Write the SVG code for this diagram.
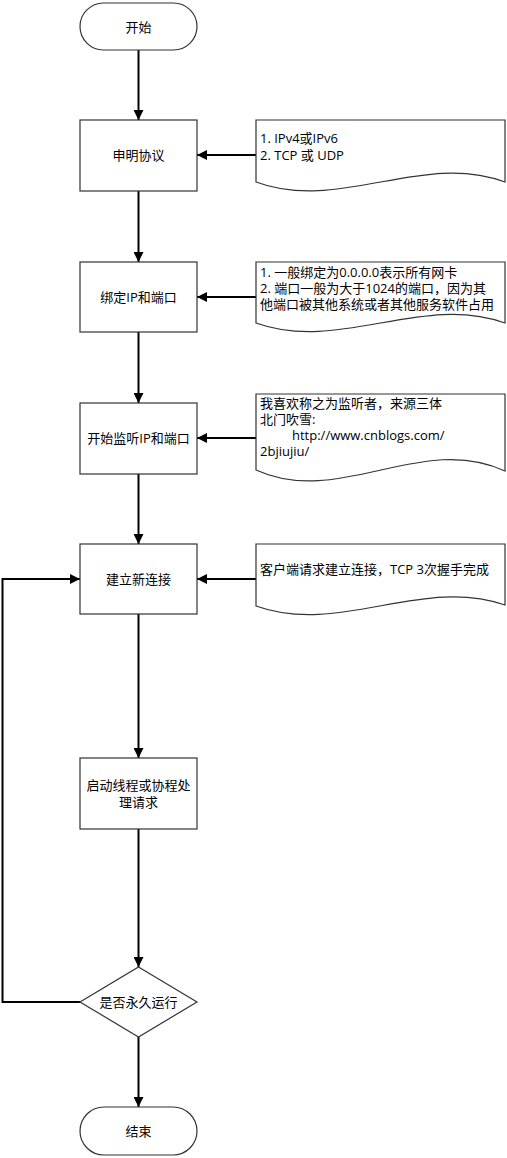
<svg xmlns="http://www.w3.org/2000/svg" width="507" height="1158" viewBox="0 0 507 1158">
<style>
.shape{fill:#fff;stroke:#333;stroke-width:1.2}
.t{font-family:"Open Sans","Noto Sans CJK SC",sans-serif;font-size:13px;fill:#000}
.c{text-anchor:middle;dominant-baseline:central}
.n{dominant-baseline:central}
.edge{fill:none;stroke:#000;stroke-width:2}
</style>
<defs>
<marker id="ah" viewBox="0 0 10 10" refX="10" refY="5" markerWidth="5" markerHeight="5" orient="auto" markerUnits="strokeWidth">
<path d="M0,0 L10,5 L0,10 z" fill="#000"/>
</marker>
</defs>
<rect width="507" height="1158" fill="#fff"/>
<g id="connectors">
<path class="edge" d="M138.5,50 V120" marker-end="url(#ah)"/>
<path class="edge" d="M138.5,191 V262" marker-end="url(#ah)"/>
<path class="edge" d="M138.5,332 V403" marker-end="url(#ah)"/>
<path class="edge" d="M138.5,474 V544" marker-end="url(#ah)"/>
<path class="edge" d="M138.5,614 V758" marker-end="url(#ah)"/>
<path class="edge" d="M138.5,829 V967" marker-end="url(#ah)"/>
<path class="edge" d="M138.5,1037 V1107" marker-end="url(#ah)"/>
<path class="edge" d="M80,1002 H2.5 V579 H80" marker-end="url(#ah)"/>
<path class="edge" d="M256,155 H197" marker-end="url(#ah)"/>
<path class="edge" d="M256,297 H197" marker-end="url(#ah)"/>
<path class="edge" d="M256,438 H197" marker-end="url(#ah)"/>
<path class="edge" d="M256,579 H197" marker-end="url(#ah)"/>
</g>
<g id="start">
<rect class="shape" x="80" y="3" width="117" height="47" rx="23.5" ry="23.5"/>
<text class="t c" x="138.5" y="27">开始</text>
</g>
<g id="declare">
<rect class="shape" x="80" y="120" width="117" height="71"/>
<text class="t c" x="138.5" y="155">申明协议</text>
</g>
<g id="note1">
<path class="shape" d="M256,120 H505 V182 C422,151 339,213 256,182 Z"/>
<text class="t n" x="260" y="138">1. IPv4或IPv6</text>
<text class="t n" x="260" y="155">2. TCP 或 UDP</text>
</g>
<g id="bind">
<rect class="shape" x="80" y="262" width="117" height="70"/>
<text class="t c" x="138.5" y="297">绑定IP和端口</text>
</g>
<g id="note2">
<path class="shape" d="M256,262 H505 V323 C422,293 339,353 256,323 Z"/>
<text class="t n" x="260" y="272">1. 一般绑定为0.0.0.0表示所有网卡</text>
<text class="t n" x="260" y="288">2. 端口一般为大于1024的端口，因为其</text>
<text class="t n" x="260" y="304">他端口被其他系统或者其他服务软件占用</text>
</g>
<g id="listen">
<rect class="shape" x="80" y="403" width="117" height="71"/>
<text class="t c" x="138.5" y="438">开始监听IP和端口</text>
</g>
<g id="note3">
<path class="shape" d="M256,394 H505 V471 C422,432 339,508 256,470 Z"/>
<text class="t n" x="260" y="403">我喜欢称之为监听者，来源三体</text>
<text class="t n" x="260" y="419">北门吹雪:</text>
<text class="t n" x="292" y="435">http://www.cnblogs.com/</text>
<text class="t n" x="260" y="451">2bjiujiu/</text>
</g>
<g id="accept">
<rect class="shape" x="80" y="544" width="117" height="70"/>
<text class="t c" x="138.5" y="579">建立新连接</text>
</g>
<g id="note4">
<path class="shape" d="M256,544 H505 V605 C422,576 339,636 256,606 Z"/>
<text class="t n" x="260" y="569">客户端请求建立连接，TCP 3次握手完成</text>
</g>
<g id="worker">
<rect class="shape" x="80" y="758" width="117" height="71"/>
<text class="t c" x="138.5" y="785">启动线程或协程处</text>
<text class="t c" x="138.5" y="802">理请求</text>
</g>
<g id="forever">
<path class="shape" d="M138.5,967 L197,1002 L138.5,1037 L80,1002 Z"/>
<text class="t c" x="138.5" y="1002">是否永久运行</text>
</g>
<g id="end">
<rect class="shape" x="80" y="1107" width="117" height="48" rx="24" ry="24"/>
<text class="t c" x="138.5" y="1131">结束</text>
</g>
</svg>
